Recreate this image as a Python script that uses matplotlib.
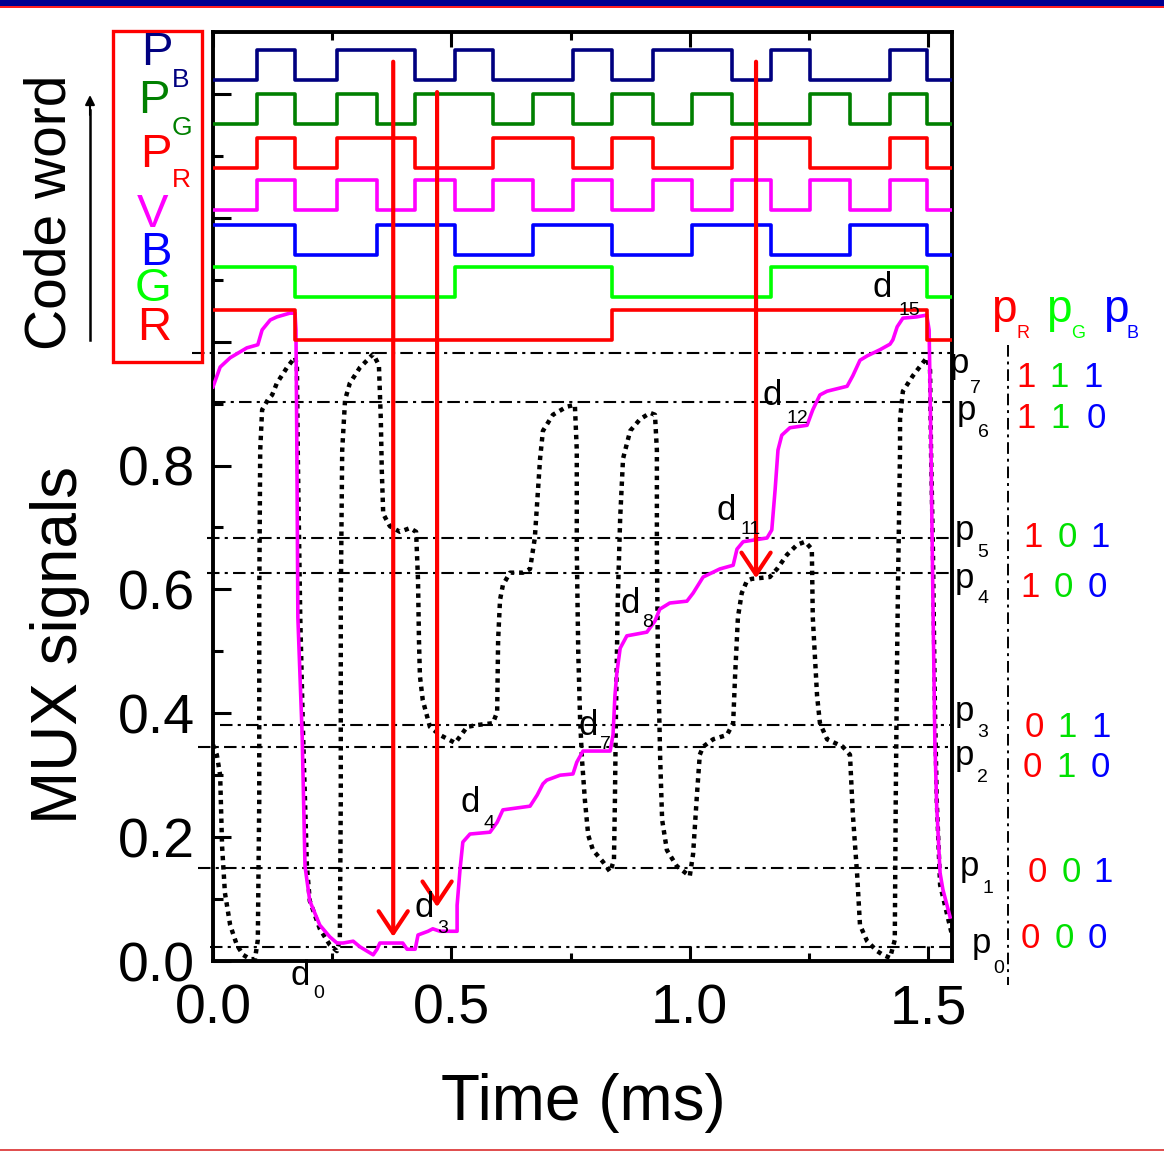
import matplotlib
matplotlib.use("Agg")
import matplotlib.pyplot as plt
from matplotlib.patches import Rectangle
import numpy as np

plt.rcParams["font.family"] = ["Liberation Sans", "DejaVu Sans"]

W, H = 1164, 1152

# ---------------- data ----------------
# code word traces: common switching edges (ms) and the state in each interval
edges = [0.0, 0.092, 0.172, 0.260, 0.344, 0.424, 0.508, 0.587, 0.671, 0.755,
         0.837, 0.923, 1.005, 1.089, 1.171, 1.252, 1.336, 1.420, 1.498, 1.55]
bits_R = [1, 1, 0, 0, 0, 0, 0, 0, 0, 0, 1, 1, 1, 1, 1, 1, 1, 1, 0]
bits_G = [1, 1, 0, 0, 0, 0, 1, 1, 1, 1, 0, 0, 0, 0, 1, 1, 1, 1, 0]
bits_B = [1, 1, 0, 0, 1, 1, 0, 0, 1, 1, 0, 0, 1, 1, 0, 0, 1, 1, 0]
bits_V = [0, 1, 0, 1, 0, 1, 0, 1, 0, 1, 0, 1, 0, 1, 0, 1, 0, 1, 0]
bits_PR = [0, 1, 0, 1, 1, 0, 0, 1, 1, 0, 1, 0, 0, 1, 1, 0, 0, 1, 0]
bits_PG = [0, 1, 0, 1, 0, 1, 1, 0, 1, 0, 1, 0, 1, 0, 0, 1, 0, 1, 0]
bits_PB = [0, 1, 0, 1, 1, 0, 1, 0, 0, 1, 0, 1, 1, 0, 1, 0, 0, 1, 0]
trace_low = [1.003, 1.072, 1.140, 1.213, 1.281, 1.352, 1.423]
trace_amp = 0.048

# black dotted MUX signal
mux_t = [0.000, 0.008, 0.015, 0.019, 0.025, 0.036, 0.050, 0.063, 0.078, 0.088,
         0.094, 0.097, 0.097, 0.099, 0.103, 0.115, 0.124, 0.134, 0.155, 0.172,
         0.176, 0.178, 0.183, 0.189, 0.197, 0.203, 0.224, 0.245, 0.260,
         0.266, 0.268, 0.268, 0.271, 0.277, 0.287, 0.308, 0.336,
         0.348, 0.352, 0.354, 0.357, 0.371, 0.392, 0.413, 0.426, 0.430, 0.432,
         0.434, 0.440, 0.455, 0.476, 0.508,
         0.533, 0.554, 0.587, 0.596, 0.598, 0.602, 0.608, 0.623, 0.650, 0.665,
         0.675, 0.686, 0.692, 0.713, 0.742, 0.759,
         0.763, 0.763, 0.766, 0.770, 0.774, 0.780, 0.787, 0.797, 0.818, 0.833,
         0.841, 0.843, 0.845, 0.849, 0.854, 0.860, 0.875, 0.896, 0.917, 0.927,
         0.931, 0.931, 0.933, 0.938, 0.942, 0.952, 0.973, 1.000,
         1.007, 1.015, 1.021, 1.028, 1.049, 1.078, 1.091, 1.095, 1.101, 1.109,
         1.120, 1.130, 1.168, 1.183, 1.204, 1.225, 1.242,
         1.256, 1.258, 1.267, 1.273, 1.288, 1.321, 1.336, 1.342, 1.351, 1.357,
         1.372, 1.393, 1.405, 1.420,
         1.430, 1.432, 1.435, 1.437, 1.441, 1.441, 1.447, 1.468, 1.497,
         1.504, 1.506, 1.510, 1.514, 1.518, 1.525, 1.539, 1.550]
mux_v = [0.349, 0.333, 0.300, 0.186, 0.110, 0.058, 0.026, 0.010, 0.003, 0.003,
         0.034, 0.260, 0.583, 0.825, 0.890, 0.906, 0.914, 0.933, 0.958, 0.975,
         0.962, 0.811, 0.555, 0.365, 0.153, 0.097, 0.052, 0.026, 0.016,
         0.034, 0.260, 0.583, 0.825, 0.906, 0.933, 0.958, 0.980,
         0.962, 0.874, 0.793, 0.722, 0.702, 0.693, 0.699, 0.693, 0.615, 0.518,
         0.460, 0.421, 0.378, 0.365, 0.352,
         0.378, 0.381, 0.384, 0.402, 0.518, 0.583, 0.607, 0.627, 0.627, 0.633,
         0.683, 0.811, 0.856, 0.882, 0.895, 0.898,
         0.825, 0.664, 0.502, 0.389, 0.325, 0.260, 0.203, 0.179, 0.160, 0.144,
         0.163, 0.260, 0.389, 0.583, 0.715, 0.811, 0.856, 0.875, 0.885, 0.882,
         0.825, 0.664, 0.502, 0.325, 0.228, 0.179, 0.153, 0.137,
         0.173, 0.268, 0.333, 0.346, 0.358, 0.365, 0.384, 0.460, 0.555, 0.594,
         0.614, 0.617, 0.620, 0.633, 0.656, 0.672, 0.677,
         0.665, 0.555, 0.428, 0.384, 0.358, 0.346, 0.333, 0.237, 0.140, 0.058,
         0.032, 0.016, 0.010, 0.005,
         0.034, 0.260, 0.502, 0.620, 0.825, 0.875, 0.920, 0.945, 0.974,
         0.954, 0.825, 0.664, 0.421, 0.260, 0.123, 0.078, 0.042]

# magenta output signal V
out_t = [0.000, 0.015, 0.036, 0.071, 0.094, 0.103, 0.120, 0.134, 0.161, 0.172,
         0.174, 0.176, 0.178, 0.187, 0.193, 0.203, 0.224, 0.245, 0.260, 0.273,
         0.294, 0.308, 0.323, 0.336, 0.344, 0.350, 0.398, 0.407, 0.424, 0.430,
         0.451, 0.461, 0.476, 0.512, 0.512, 0.518, 0.524, 0.539, 0.581, 0.596,
         0.608, 0.665, 0.680, 0.692, 0.700, 0.728, 0.755, 0.763, 0.776, 0.833,
         0.839, 0.843, 0.847, 0.854, 0.868, 0.910, 0.927, 0.937, 0.958, 0.994,
         1.007, 1.028, 1.063, 1.091, 1.099, 1.112, 1.162, 1.172, 1.179, 1.185,
         1.193, 1.210, 1.246, 1.258, 1.273, 1.288, 1.330, 1.342, 1.357, 1.372,
         1.399, 1.420, 1.426, 1.435, 1.447, 1.476, 1.497, 1.502, 1.506, 1.510,
         1.514, 1.518, 1.525, 1.531, 1.546]
out_v = [0.927, 0.959, 0.974, 0.990, 0.995, 1.019, 1.035, 1.040, 1.046, 1.046,
         1.019, 0.817, 0.555, 0.365, 0.153, 0.097, 0.058, 0.039, 0.029, 0.029,
         0.032, 0.023, 0.016, 0.010, 0.019, 0.029, 0.029, 0.019, 0.019, 0.042,
         0.048, 0.052, 0.048, 0.048, 0.090, 0.147, 0.192, 0.205, 0.208, 0.224,
         0.244, 0.250, 0.268, 0.286, 0.292, 0.300, 0.302, 0.321, 0.339, 0.339,
         0.365, 0.428, 0.465, 0.505, 0.525, 0.531, 0.549, 0.568, 0.578, 0.581,
         0.594, 0.620, 0.633, 0.639, 0.665, 0.677, 0.683, 0.696, 0.761, 0.825,
         0.849, 0.861, 0.865, 0.890, 0.914, 0.920, 0.928, 0.945, 0.970, 0.977,
         0.987, 0.996, 1.003, 1.024, 1.038, 1.040, 1.043, 1.019, 0.825, 0.583,
         0.357, 0.249, 0.142, 0.115, 0.071]

# reference levels p0..p7 and their RGB codes
p_levels = [0.023, 0.150, 0.346, 0.381, 0.627, 0.683, 0.903, 0.981]
p_start = [-0.006, -0.031, -0.031, 0.015, -0.013, -0.013, 0.0, -0.044]
p_codes = ["000", "001", "010", "011", "100", "101", "110", "111"]

# red arrows: time, top, tip
arrow_t = [0.378, 0.470, 1.139]
arrow_top = [1.452, 1.403, 1.452]
arrow_tip = [0.039, 0.087, 0.618]


def fx(px):
    return px / W


def fy(py):
    return 1 - py / H


fig = plt.figure(figsize=(W / 100, H / 100), dpi=100)
ax = fig.add_axes([fx(213), fy(961), (952 - 213) / W, (961 - 32) / H])
ax.set_xlim(0, 1.55)
ax.set_ylim(0, 1.5)

# -------------------------
# p levels (dash-dot)
# -------------------------
dashdot = (0, (6, 2.5, 1.5, 2.5))
for lvl, t0 in zip(p_levels, p_start):
    ax.plot([t0, 1.545], [lvl, lvl], color="black", lw=1.5,
            linestyle=dashdot, clip_on=False, zorder=1)
ax.plot([1.668, 1.668], [0.994, -0.039], color="black", lw=1.4,
        linestyle=dashdot, clip_on=False, zorder=1)

# -------------------------
# MUX signals
# -------------------------
ax.plot(mux_t, mux_v, color="black", lw=3.2, linestyle=(0, (1, 1.1)), zorder=2)
ax.plot(out_t, out_v, color="#ff00ff", lw=2.6, zorder=3)

# -------------------------
# code word traces
# -------------------------
traces = [bits_R, bits_G, bits_B, bits_V, bits_PR, bits_PG, bits_PB]
trace_colors = ["#ff0000", "#00ff00", "#0000ff", "#ff00ff",
                "#ff0000", "#008000", "#000080"]
for bits, low, col in zip(traces, trace_low, trace_colors):
    ys = low + trace_amp * np.array(bits + [bits[-1]])
    ax.step(edges, ys, where="post", color=col, lw=2.6, zorder=3)

# -------------------------
# red arrows
# -------------------------
for t, y0, y1 in zip(arrow_t, arrow_top, arrow_tip):
    ax.annotate("", xy=(t, y1), xytext=(t, y0),
                arrowprops=dict(arrowstyle="->,head_length=0.45,head_width=0.3",
                                color="red", lw=3, mutation_scale=35,
                                shrinkA=0, shrinkB=0), zorder=6)

# -------------------------
# axes styling
# -------------------------
for s in ax.spines.values():
    s.set_linewidth(2.8)
ax.set_xticks([0, 0.5, 1.0, 1.5])
ax.set_xticklabels(["0.0", "0.5", "1.0", "1.5"])
ax.set_xticks([0.25, 0.75, 1.25], minor=True)
ax.set_yticks(np.arange(0, 1.41, 0.2))
ax.set_yticklabels(["0.0", "0.2", "0.4", "0.6", "0.8", "", "", ""])
ax.set_yticks(np.arange(0.1, 1.5, 0.2), minor=True)
ax.tick_params(axis="both", which="both", direction="in", width=2.2,
               top=True, right=False, labelsize=40)
ax.tick_params(axis="x", which="major", length=11, pad=16)
ax.tick_params(axis="x", which="minor", length=6)
ax.tick_params(axis="y", which="major", length=13, pad=13)
ax.tick_params(axis="y", which="minor", length=7)

fig.text(fx(583), fy(1103), "Time (ms)", fontsize=46, ha="center", va="center")
fig.text(fx(60), fy(645), "MUX signals", fontsize=46, rotation=90,
         ha="center", va="center")
fig.text(fx(50), fy(212), "Code word", fontsize=41, rotation=90,
         ha="center", va="center")
fig.add_artist(plt.Line2D([fx(90), fx(90)], [fy(340), fy(110)],
                          color="black", lw=1.8))
ax.annotate("", xy=(fx(90), fy(95)), xytext=(fx(90), fy(115)),
            xycoords="figure fraction", textcoords="figure fraction",
            arrowprops=dict(arrowstyle="-|>", color="black", lw=1.5,
                            mutation_scale=14, shrinkA=0, shrinkB=0))

# legend box
fig.add_artist(Rectangle((fx(113), fy(362)), (202 - 113) / W, (362 - 31) / H,
                         transform=fig.transFigure, fill=False,
                         edgecolor="red", lw=2.4))
legend_items = [
    ("P", "B", "#000080", 141, 65, 172, 87),
    ("P", "G", "#008000", 138, 113, 172, 135),
    ("P", "R", "#ff0000", 140, 167, 172, 187),
    ("V", "", "#ff00ff", 137, 227, 0, 0),
    ("B", "", "#0000ff", 140, 265, 0, 0),
    ("G", "", "#00ff00", 135, 301, 0, 0),
    ("R", "", "#ff0000", 137, 340, 0, 0),
]
for big, sub, col, x0, b0, x1, b1 in legend_items:
    fig.text(fx(x0), fy(b0), big, fontsize=34, color=col, ha="left",
             va="baseline")
    if sub:
        fig.text(fx(x1), fy(b1), sub, fontsize=19, color=col, ha="left",
                 va="baseline")

# header pR pG pB
for sub, col, xp, xs in [("R", "#ff0000", 991, 1016),
                         ("G", "#00ff00", 1046, 1071),
                         ("B", "#0000ff", 1103, 1126)]:
    fig.text(fx(xp), fy(322), "p", fontsize=33, color=col, ha="left",
             va="baseline")
    fig.text(fx(xs), fy(338), sub, fontsize=13, color=col, ha="left",
             va="baseline")

# p labels and code digits
p_lab_pos = [(972, 953, 993, 973), (960, 876, 983, 893),
             (955, 765, 977, 782), (955, 721, 977, 737),
             (955, 588, 977, 603), (955, 540, 977, 557),
             (957, 420, 978, 437), (950, 373, 970, 393)]
code_pos = [(948, (1030, 1064, 1097)), (882, (1037, 1071, 1103)),
            (777, (1032, 1066, 1100)), (737, (1034, 1067, 1101)),
            (597, (1030, 1063, 1097)), (547, (1033, 1067, 1100)),
            (428, (1026, 1060, 1096)), (387, (1026, 1059, 1093))]
code_cols = ["#ff0000", "#00e000", "#0000ff"]
for k in range(8):
    xp, bp, xs, bs = p_lab_pos[k]
    fig.text(fx(xp), fy(bp), "p", fontsize=25, ha="left", va="baseline")
    fig.text(fx(xs), fy(bs), str(k), fontsize=14, ha="left", va="baseline")
    by, xs3 = code_pos[k]
    for ch, xc, col in zip(p_codes[k], xs3, code_cols):
        fig.text(fx(xc), fy(by), ch, fontsize=25, color=col, ha="center",
                 va="baseline")

# d labels
d_pos = [("0", 290, 985, 313, 998), ("3", 415, 917, 437, 933),
         ("4", 460, 812, 483, 828), ("7", 578, 735, 600, 749),
         ("8", 620, 613, 642, 627), ("11", 717, 520, 740, 534),
         ("12", 763, 405, 787, 423), ("15", 873, 297, 898, 315)]
for sub, xd, bd, xs, bs in d_pos:
    fig.text(fx(xd), fy(bd), "d", fontsize=25, ha="left", va="baseline",
             zorder=7)
    fig.text(fx(xs), fy(bs), sub, fontsize=14, ha="left", va="baseline",
             zorder=7)

# banner lines
fig.add_artist(Rectangle((0, fy(6)), 1, 6 / H, transform=fig.transFigure,
                         color="#000090", lw=0))
fig.add_artist(Rectangle((0, fy(8)), 1, 2 / H, transform=fig.transFigure,
                         color="#ff2020", lw=0))
fig.add_artist(Rectangle((0, fy(1151)), 1, 2 / H, transform=fig.transFigure,
                         color="#e05050", lw=0))

fig.savefig("out.png", dpi=100)
